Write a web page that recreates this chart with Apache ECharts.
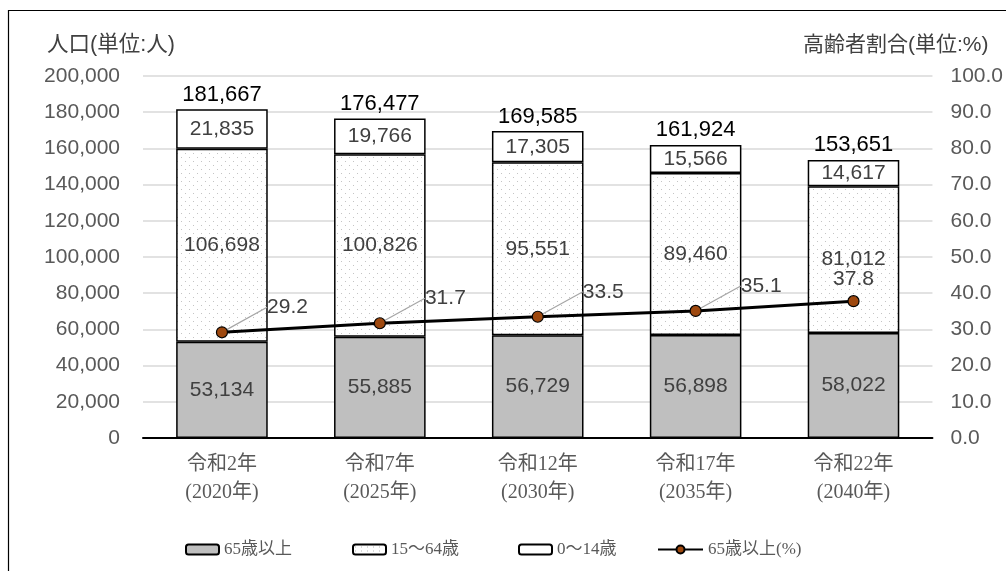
<!DOCTYPE html>
<html><head><meta charset="utf-8">
<script src="https://cdn.jsdelivr.net/npm/echarts@6/dist/echarts.min.js"></script>
<style>html,body{margin:0;padding:0;background:#fff}#c{width:1006px;height:571px}</style>
</head><body><div id="c"></div>
<script>
const categories = ['令和2年\n(2020年)','令和7年\n(2025年)','令和12年\n(2030年)','令和17年\n(2035年)','令和22年\n(2040年)'];
const age65plus = [53134, 55885, 56729, 56898, 58022];
const age15to64 = [106698, 100826, 95551, 89460, 81012];
const age0to14 = [21835, 19766, 17305, 15566, 14617];
const totals = [181667, 176477, 169585, 161924, 153651];
const ratio65 = [29.2, 31.7, 33.5, 35.1, 37.8];
const leftTicks = [0, 200000, 20000];
const rightTicks = [0, 100, 10];
const legendNames = ['65歳以上','15〜64歳','0〜14歳','65歳以上(%)'];

const pc = document.createElement('canvas');
pc.width = 8; pc.height = 8;
const g = pc.getContext('2d');
g.fillStyle = '#fff'; g.fillRect(0,0,8,8);
g.fillStyle = '#c4c4c4';
g.fillRect(1,1,1,1); g.fillRect(5,5,1,1);
const pc2 = document.createElement('canvas');
pc2.width = 6; pc2.height = 4;
const g2 = pc2.getContext('2d');
g2.fillStyle = '#fff'; g2.fillRect(0,0,6,4);
g2.fillStyle = '#b0b0b0';
g2.fillRect(2,2,1,1);

const fmt = v => v.toLocaleString('en-US');
const numFont = "'Liberation Sans', Arial, sans-serif";
const serifFont = "'Liberation Serif', 'Noto Sans CJK JP', serif";
const cjkFont = "'Liberation Sans', 'Noto Sans CJK JP', sans-serif";
const chart = echarts.init(document.getElementById('c'));
const inLabel = {show:true, position:'inside', color:'#404040', fontSize:21, fontFamily:numFont, formatter: p => fmt(p.value)};
const legendLefts = [180, 347, 513, 652];
chart.setOption({
  animation:false,
  graphic:[{type:'rect', shape:{x:8.5,y:10.5,width:1010,height:600}, style:{fill:null, stroke:'#000', lineWidth:1.2}, silent:true}],
  grid:{left:143, right:71, top:76, bottom:133},
  legend: legendNames.map((n,i)=>({top:536, left:legendLefts[i], itemGap:0, itemWidth:i===3?45:33, itemHeight:10,
    textStyle:{color:'#595959', fontSize:17, fontFamily:serifFont},
    data:[i===1 ? {name:n, itemStyle:{color:{image:pc2, repeat:'repeat'}}} : n]})),
  xAxis:{type:'category', data:categories,
    axisLine:{lineStyle:{color:'#000', width:2}}, axisTick:{show:false},
    axisLabel:{color:'#595959', fontSize:20, fontFamily:serifFont, lineHeight:28, margin:13}},
  yAxis:[
    {type:'value', min:leftTicks[0], max:leftTicks[1], interval:leftTicks[2], name:'人口(単位:人)',
      nameLocation:'end', nameGap:20, nameTextStyle:{color:'#404040', fontSize:21.5, fontFamily:cjkFont, align:'left', padding:[0,0,0,-96]},
      axisLabel:{color:'#595959', fontSize:21, fontFamily:numFont, margin:23, formatter: v => fmt(v)},
      splitLine:{lineStyle:{color:'#d9d9d9', width:1.5}}, axisLine:{show:false}, axisTick:{show:false}},
    {type:'value', min:rightTicks[0], max:rightTicks[1], interval:rightTicks[2], name:'高齢者割合(単位:%)',
      nameLocation:'end', nameGap:20, nameTextStyle:{color:'#404040', fontSize:21, fontFamily:cjkFont, align:'right', padding:[0,-56,0,0]},
      axisLabel:{color:'#595959', fontSize:21, fontFamily:numFont, margin:18, formatter: v => v.toFixed(1)},
      splitLine:{show:false}, axisLine:{show:false}, axisTick:{show:false}}
  ],
  series:[
    {name:'65歳以上', type:'bar', stack:'p', data:age65plus, barWidth:'58%',
      itemStyle:{color:'#bfbfbf', borderColor:'#000', borderWidth:1.5}, label:inLabel},
    {name:'15〜64歳', type:'bar', stack:'p', data:age15to64,
      itemStyle:{color:{image:pc, repeat:'repeat'}, borderColor:'#000', borderWidth:1.5}, label:inLabel},
    {name:'0〜14歳', type:'bar', stack:'p', data:age0to14,
      itemStyle:{color:'#fff', borderColor:'#000', borderWidth:1.5}, label:inLabel},
    {name:'total', type:'line', data:totals, symbol:'circle', symbolSize:1, silent:true,
      itemStyle:{color:'rgba(0,0,0,0)', borderWidth:0}, lineStyle:{width:0, color:'rgba(0,0,0,0)'},
      label:{show:true, position:'top', distance:3, color:'#000', fontSize:22, fontFamily:numFont, formatter: p => fmt(p.value)}},
    {name:'65歳以上(%)', type:'line', yAxisIndex:1,
      data:ratio65.map((v,i)=> i<4 ? v : {value:v, label:{position:'top', offset:[19,3]}, labelLine:{show:false}}),
      symbol:'circle', symbolSize:11, z:10,
      lineStyle:{color:'#000', width:3}, itemStyle:{color:'#9e480e', borderColor:'#000', borderWidth:1.2},
      label:{show:true, position:'right', color:'#404040', fontSize:21, fontFamily:numFont, formatter: p => p.value.toFixed(1)},
      labelLayout: p => p.dataIndex < 4 ? {dx:34, dy:-25} : {},
      labelLine:{show:true, lineStyle:{color:'#a6a6a6', width:1.2}}}
  ]
});
</script></body></html>
